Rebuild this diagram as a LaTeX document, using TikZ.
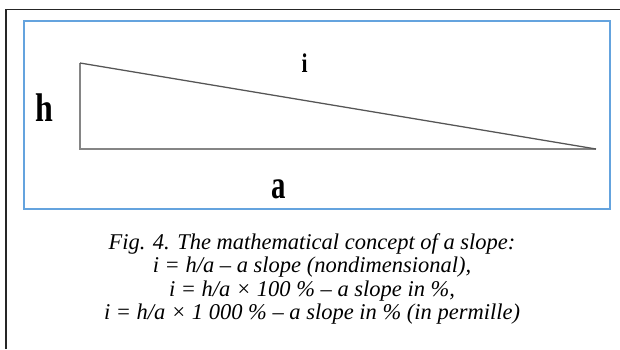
\documentclass[tikz,border=0pt]{standalone}
\usepackage{fontspec}
\setmainfont{Liberation Serif}
\usepackage{xcolor}
\usetikzlibrary{positioning}

\definecolor{frameblue}{HTML}{64A3DE}
\definecolor{legcol}{HTML}{858585}
\definecolor{hypcol}{HTML}{555555}

\tikzset{
  sidelabel/.style={font=\fontsize{40}{40}\selectfont\bfseries, xscale=0.8, anchor=base, inner sep=0pt},
  leg/.style={legcol, line width=1.5pt},
}

\begin{document}
\begin{tikzpicture}[x=1pt,y=-1pt]
        \useasboundingbox (0,0) rectangle (620,349);
        % outer page frame
        \draw[line width=1.6pt, black!85] (6,349) -- (6,9.5) -- (620,9.5);
        \draw[frameblue, line width=1.6pt] (24,21) rectangle (610,209);
        % the slope triangle
        \coordinate (top) at (80,63);
        \coordinate (corner) at (80,149);
        \coordinate (tip) at (596,149);
        \draw[leg] (top) -- (corner) -- (tip);
        \draw[hypcol, line width=1.3pt] (top) -- (tip);
        \node[sidelabel] (h) at (44.5,121) {h};
        \node[sidelabel, font=\fontsize{27}{27}\selectfont\bfseries] (i) at (304.5,72) {i};
        \node[sidelabel, xscale=0.9] (a) at (279,198) {a};
        % caption
        \node[anchor=north, align=center, inner sep=0pt,
              font=\fontsize{22.5}{23.5}\selectfont\itshape] (caption) at (312,233)
          {Fig. 4. The mathematical concept of a slope:\\
           i = h/a – a slope (nondimensional),\\
           i = h/a × 100 \% – a slope in \%,\\
           i = h/a × 1 000 \% – a slope in \% (in permille)};
    \end{tikzpicture}
\end{document}
